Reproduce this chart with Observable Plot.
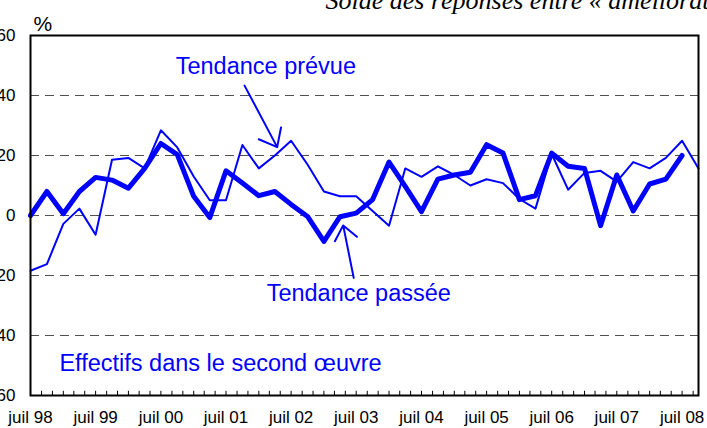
<!DOCTYPE html>
<html><head><meta charset="utf-8">
<script src="https://cdn.jsdelivr.net/npm/d3@7"></script>
<script src="https://cdn.jsdelivr.net/npm/@observablehq/plot@0.6"></script>
<style>
html,body{margin:0;padding:0;background:#fff;}
#chart{width:707px;height:428px;overflow:hidden;}
</style></head><body><div id="chart"></div>
<script>
// Quarterly series starting July 1998
const startYear = 1998, startMonth = 6; // juillet 1998 (0-based month)
const tendancePassee = [0, 8, 0.6, 8, 12.7, 11.8, 9.1, 15.7, 24, 20.3, 6.4, -0.7, 14.9, 10.8, 6.6, 8, 3.7, -0.3, -8.6, -0.4, 0.8, 5.3, 17.8, 9.7, 1.3, 12.1, 13.5, 14.4, 23.6, 20.8, 5.3, 6.6, 20.8, 16.4, 15.7, -3.4, 13.5, 1.5, 10.5, 12.1, 20];
const tendancePrevue = [-18.4, -16.2, -2.8, 2.3, -6.4, 18.6, 19.2, 15.7, 28.4, 22.7, 13, 5.1, 5.1, 23.5, 15.7, 20, 24.9, 17, 8, 6.4, 6.4, 1.5, -3.4, 15.7, 12.9, 16.4, 13.5, 10, 12.1, 10.8, 5.5, 2.3, 20.5, 8.6, 14.2, 14.9, 11.3, 17.8, 15.7, 19.2, 24.9, 15.7];
const tickLabels = ["juil 98","juil 99","juil 00","juil 01","juil 02","juil 03","juil 04","juil 05","juil 06","juil 07","juil 08"];
const yTicks = [-60, -40, -20, 0, 20, 40, 60];
const gridValues = [-40, -20, 0, 20, 40];
const titleText = "Solde des réponses entre « amélioration » et « dégradation »";
const unitText = "%";
// annotations
const labelTexts = ["Tendance prévue", "Tendance passée", "Effectifs dans le second œuvre"];
const labelDates = ["2000-09-22", "2002-02-14", "1998-12-10"];
const labelValues = [47.2, -28.6, -51.9];
const arrowStartDates = ["2001-10-13", "2003-06-17"];
const arrowStartValues = [43.3, -20.8];
const arrowEndDates = ["2002-04-14", "2003-04-19"];
const arrowEndValues = [22.8, -3.3];

const q = i => new Date(Date.UTC(startYear, startMonth + 3 * i, 1));
const passee = tendancePassee.map((v, i) => ({date: q(i), value: v}));
const prevue = tendancePrevue.map((v, i) => ({date: q(i), value: v}));
const labelTickDates = tickLabels.map((_, i) => new Date(Date.UTC(startYear + i, startMonth, 1)));
const labelMap = new Map(labelTickDates.map((d, i) => [+d, tickLabels[i]]));
const xStart = q(0), xEnd = q(tendancePrevue.length - 1);
const minorTicks = d3.utcMonth.every(2).range(xStart, new Date(+xEnd + 1));
const labels = labelTexts.map((t, i) => ({text: t, date: new Date(labelDates[i]), value: labelValues[i]}));
const arrows = arrowStartDates.map((d, i) => ({x1: new Date(d), y1: arrowStartValues[i], x2: new Date(arrowEndDates[i]), y2: arrowEndValues[i]}));
const blue = "#0000ff";

const chart = Plot.plot({
  width: 707, height: 428,
  marginLeft: 30, marginRight: 9, marginTop: 35, marginBottom: 33,
  style: {fontFamily: "'Liberation Sans', Arial, sans-serif", background: "white", color: "black"},
  x: {type: "utc", domain: [xStart, xEnd]},
  y: {domain: [-60, 60]},
  marks: [
    Plot.ruleY(gridValues, {stroke: "#505050", strokeWidth: 1.1, strokeDasharray: "9,6"}),
    Plot.ruleX(minorTicks, {y1: -60, y2: -58.6, stroke: "black", strokeWidth: 1}),
    Plot.axisY({ticks: yTicks, tickSize: 0, tickPadding: 15, fontSize: 17, label: null}),
    Plot.axisX({ticks: labelTickDates, tickFormat: d => labelMap.get(+d), tickSize: 0, tickPadding: 15, fontSize: 17, label: null}),
    Plot.line(prevue, {x: "date", y: "value", stroke: blue, strokeWidth: 2, strokeLinejoin: "round"}),
    Plot.line(passee, {x: "date", y: "value", stroke: blue, strokeWidth: 5, strokeLinejoin: "round"}),
    Plot.arrow(arrows, {x1: "x1", y1: "y1", x2: "x2", y2: "y2", stroke: blue, strokeWidth: 2, headLength: 15, headAngle: 78}),
    Plot.text(labels, {x: "date", y: "value", text: "text", fill: blue, fontSize: 23.5, textAnchor: "start", lineAnchor: "bottom"}),
    Plot.text([unitText], {frameAnchor: "top-left", dx: 3, dy: -5, fontSize: 21, textAnchor: "start", lineAnchor: "bottom", fill: "black"}),
    Plot.text([titleText], {frameAnchor: "top-left", dx: 295, dy: -27, fontSize: 26, textAnchor: "start", lineAnchor: "bottom", fontStyle: "italic", fontFamily: "'Liberation Serif', 'Times New Roman', serif", fill: "black"}),
    Plot.frame({stroke: "black", strokeWidth: 2})
  ]
});
document.getElementById("chart").appendChild(chart);
</script></body></html>
